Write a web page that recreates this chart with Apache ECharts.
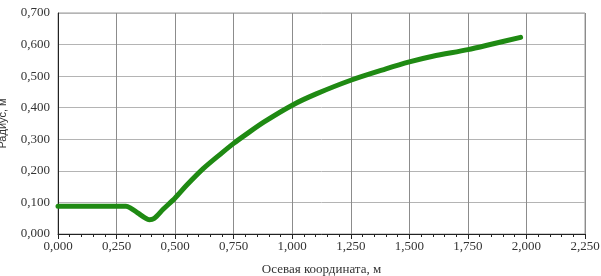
<!DOCTYPE html>
<html>
<head>
<meta charset="utf-8">
<script src="https://cdn.jsdelivr.net/npm/echarts@6/dist/echarts.min.js"></script>
<style>html,body{margin:0;padding:0;background:#fff}#c{width:601px;height:276px}</style>
</head>
<body>
<div id="c"></div>
<script>
var xValues = [0, 0.29, 0.31, 0.34, 0.37, 0.39, 0.41, 0.45, 0.5, 0.55, 0.62, 0.7, 0.75, 0.8, 0.88, 1.0, 1.1, 1.25, 1.4, 1.5, 1.6, 1.75, 1.85, 1.975];
var yValues = [0.088, 0.088, 0.082, 0.067, 0.052, 0.045, 0.049, 0.079, 0.114, 0.155, 0.207, 0.257, 0.287, 0.314, 0.355, 0.408, 0.443, 0.487, 0.523, 0.545, 0.563, 0.584, 0.601, 0.623];
var xAxisTitle = 'Осевая координата, м';
var yAxisTitle = 'Радиус, м';

var fmt = function (v) { return v.toFixed(3).replace('.', ','); };
var pts = xValues.map(function (x, i) { return [x, yValues[i]]; });

var chart = echarts.init(document.getElementById('c'), null, {renderer: 'canvas'});
chart.setOption({
  animation: false,
  grid: {left: 58, right: 16, top: 13, bottom: 42, show: true, borderColor: '#9a9a9a', borderWidth: 1, containLabel: false, outerBoundsMode: 'none'},
  xAxis: {
    type: 'value', min: 0, max: 2.25, interval: 0.25,
    name: xAxisTitle, nameLocation: 'middle', nameGap: 29,
    nameTextStyle: {fontFamily: 'Liberation Serif', fontSize: 13, color: '#333'},
    axisLine: {show: true, lineStyle: {color: '#222', width: 1}},
    axisTick: {show: true, inside: false, length: 5, lineStyle: {color: '#222'}},
    minorTick: {show: true, splitNumber: 5, length: 3, lineStyle: {color: '#222'}},
    splitLine: {show: true, lineStyle: {color: '#8c8c8c', width: 1}},
    axisLabel: {formatter: fmt, fontFamily: 'Liberation Serif', fontSize: 13, color: '#333', margin: 6}
  },
  yAxis: {
    type: 'value', min: 0, max: 0.7, interval: 0.1,
    name: yAxisTitle, nameLocation: 'middle', nameGap: 50, nameRotate: 90,
    nameTextStyle: {fontFamily: 'Liberation Sans', fontSize: 11, color: '#333'},
    axisLine: {show: true, lineStyle: {color: '#222', width: 1}},
    axisTick: {show: false},
    splitLine: {show: true, lineStyle: {color: '#b4b4b4', width: 1}},
    axisLabel: {formatter: fmt, fontFamily: 'Liberation Serif', fontSize: 13, color: '#333', margin: 8}
  },
  series: [{
    type: 'line', data: pts, smooth: 0.3, showSymbol: false,
    lineStyle: {color: '#1f8a13', width: 5, cap: 'round', join: 'round'}
  }]
});
</script>
</body>
</html>
